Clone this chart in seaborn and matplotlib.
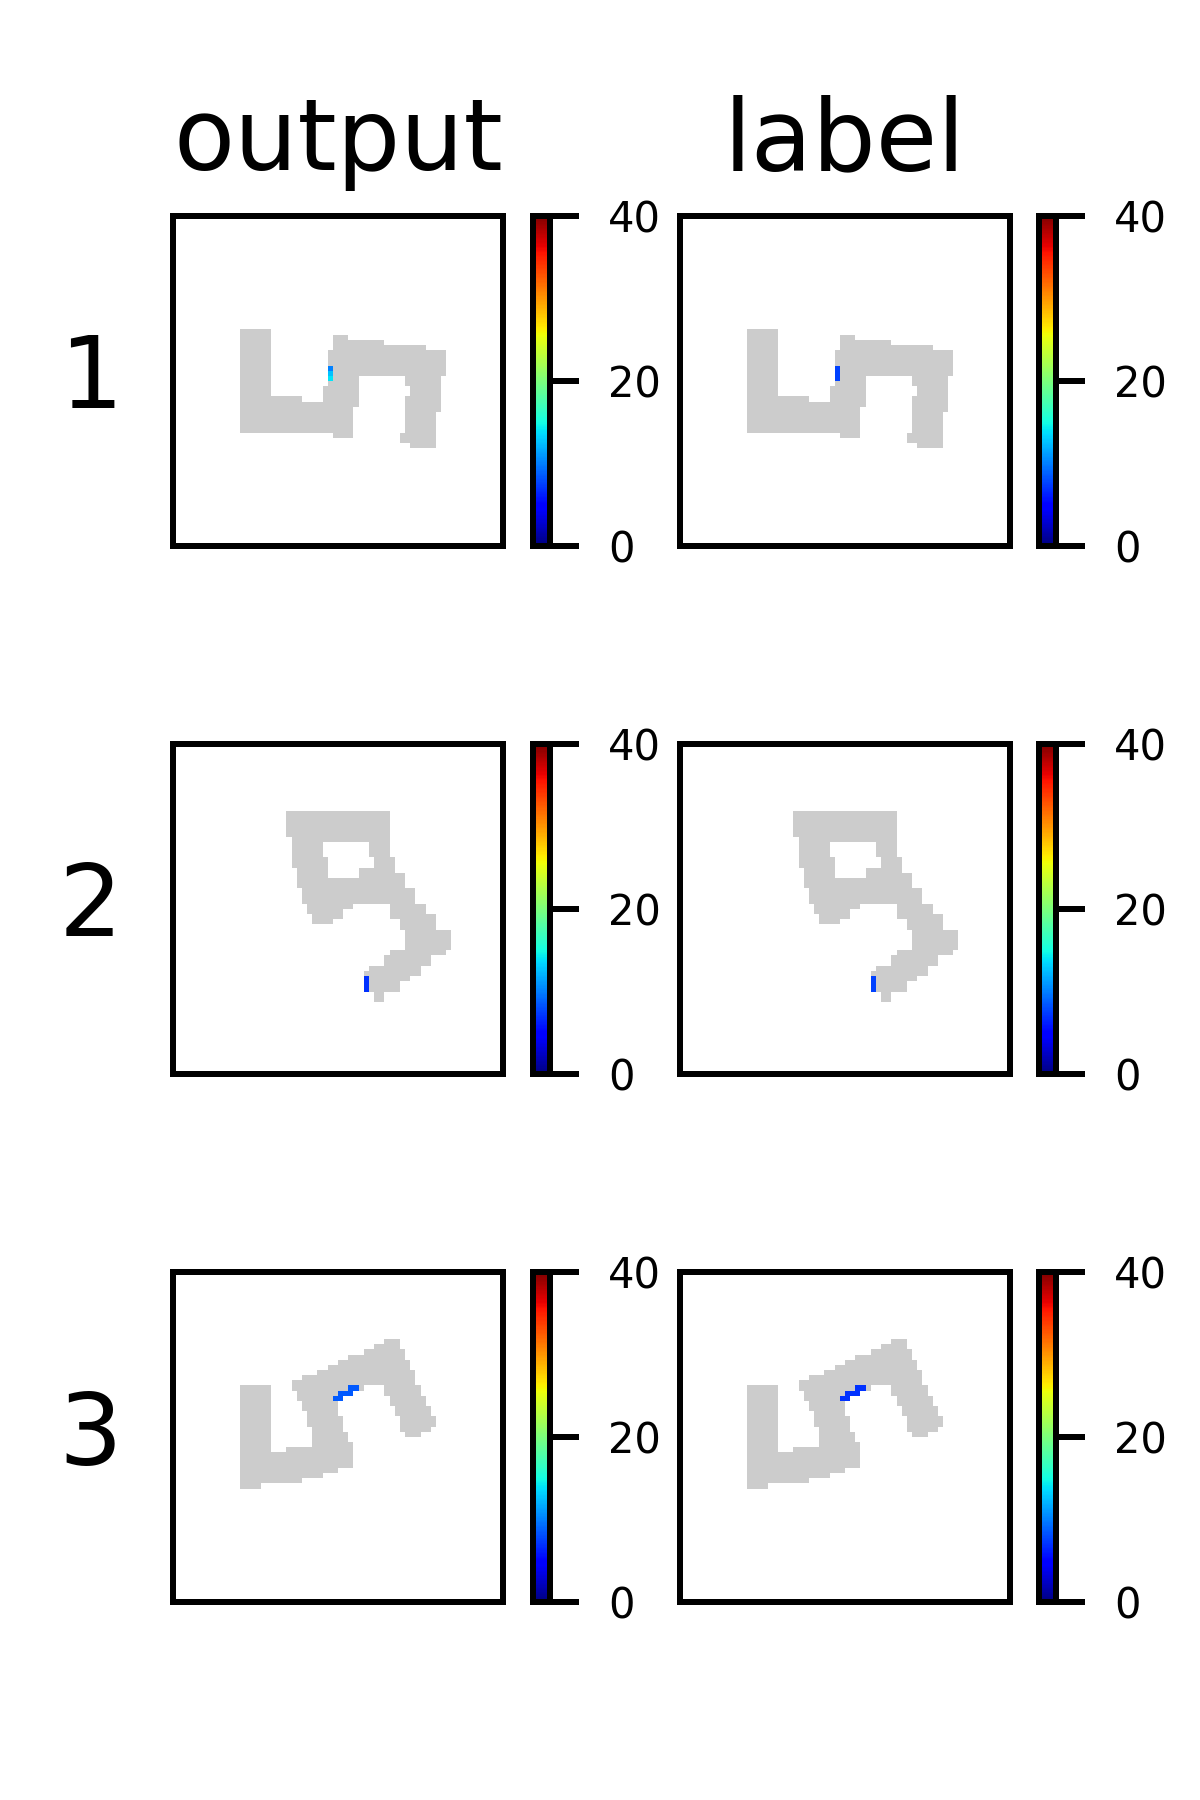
import numpy as np
import matplotlib
matplotlib.use("Agg")
import matplotlib.pyplot as plt
import seaborn as sns
from matplotlib.colors import ListedColormap

# ---------------- data ----------------
GRID = 64
row_names = ["1", "2", "3"]
col_titles = ["output", "label"]
cbar_ticks = [0, 20, 40]
vmin, vmax = 0, 40

# occupied (gray) cells: row -> list of inclusive column spans
shape1 = {
    22: [(13, 18)], 23: [(13, 18), (31, 33)], 24: [(13, 18), (31, 40)],
    25: [(13, 18), (31, 48)], 26: [(13, 18), (30, 52)], 27: [(13, 18), (30, 52)],
    28: [(13, 18), (30, 52)], 29: [(13, 18), (30, 52)], 30: [(13, 18), (30, 52)],
    31: [(13, 18), (30, 35), (45, 51)], 32: [(13, 18), (30, 35), (45, 51)],
    33: [(13, 18), (29, 35), (46, 51)], 34: [(13, 18), (29, 35), (46, 51)],
    35: [(13, 24), (29, 35), (45, 51)], 36: [(13, 35), (45, 51)],
    37: [(13, 34), (45, 51)], 38: [(13, 34), (45, 50)], 39: [(13, 34), (45, 50)],
    40: [(13, 34), (45, 50)], 41: [(13, 34), (45, 50)], 42: [(31, 34), (44, 50)],
    43: [(44, 50)], 44: [(46, 50)],
}
shape2 = {
    13: [(22, 41)], 14: [(22, 41)], 15: [(22, 41)], 16: [(22, 41)], 17: [(22, 41)],
    18: [(23, 41)], 19: [(23, 28), (38, 41)], 20: [(23, 28), (38, 41)],
    21: [(23, 28), (38, 41)], 22: [(23, 29), (39, 42)], 23: [(23, 29), (39, 42)],
    24: [(24, 29), (36, 42)], 25: [(24, 29), (36, 44)], 26: [(24, 44)], 27: [(24, 44)],
    28: [(25, 46)], 29: [(25, 46)], 30: [(25, 46)], 31: [(26, 34), (42, 48)],
    32: [(26, 32), (42, 48)], 33: [(27, 32), (42, 50)], 34: [(27, 30), (44, 50)],
    35: [(44, 50)], 36: [(45, 53)], 37: [(45, 53)], 38: [(45, 53)], 39: [(45, 53)],
    40: [(42, 52)], 41: [(41, 49)], 42: [(41, 49)], 43: [(38, 47)], 44: [(37, 47)],
    45: [(37, 45)], 46: [(37, 43)], 47: [(37, 43)], 48: [(39, 40)], 49: [(39, 40)],
}
shape3 = {
    13: [(41, 43)], 14: [(39, 43)], 15: [(37, 44)], 16: [(34, 44)], 17: [(32, 45)],
    18: [(30, 45)], 19: [(28, 46)], 20: [(25, 46)], 21: [(23, 46)],
    22: [(13, 18), (23, 36), (41, 47)], 23: [(13, 18), (24, 34), (41, 47)],
    24: [(13, 18), (24, 32), (42, 48)], 25: [(13, 18), (25, 31), (42, 48)],
    26: [(13, 18), (25, 31), (43, 49)], 27: [(13, 18), (26, 31), (43, 49)],
    28: [(13, 18), (26, 32), (44, 50)], 29: [(13, 18), (26, 32), (44, 50)],
    30: [(13, 18), (27, 32), (44, 49)], 31: [(13, 18), (27, 33), (45, 47)],
    32: [(13, 18), (27, 33)], 33: [(13, 18), (27, 34)], 34: [(13, 18), (22, 34)],
    35: [(13, 34)], 36: [(13, 34)], 37: [(13, 34)], 38: [(13, 31)],
    39: [(13, 28)], 40: [(13, 24)], 41: [(13, 16)],
}
shapes = [shape1, shape2, shape3]

# coloured cells (row, col, value)
output1 = [(29, 30, 10.0), (30, 30, 12.5), (31, 30, 14.0)]
label1 = [(29, 30, 7.5), (30, 30, 7.5), (31, 30, 7.5)]
output2 = [(45, 37, 7.0), (46, 37, 7.0), (47, 37, 7.0)]
label2 = [(45, 37, 7.5), (46, 37, 7.5), (47, 37, 7.5)]
output3 = [(22, 34, 8.5), (22, 35, 8.5), (23, 32, 8.5), (23, 33, 8.5),
           (23, 34, 8.5), (24, 31, 8.5), (24, 32, 8.5)]
label3 = [(22, 34, 7.0), (22, 35, 7.0), (23, 32, 7.0), (23, 33, 7.0),
          (23, 34, 7.0), (24, 31, 7.0), (24, 32, 7.0)]
values = [[output1, label1], [output2, label2], [output3, label3]]

# ---------------- style ----------------
sns.set_style("white")
plt.rcParams["font.family"] = ["DejaVu Sans"]
for k in ["text.color", "axes.edgecolor", "xtick.color", "ytick.color", "axes.labelcolor"]:
    plt.rcParams[k] = "black"

LW = 1.44
fig = plt.figure(figsize=(4, 6), dpi=300)

W, H = 1200.0, 1800.0
ax_left = [173, 680]
cb_left = [533, 1039]
ax_top = [216, 744, 1272]
size = 330
cb_w = 17

gray_cmap = ListedColormap(["white", "#cccccc"])

for r in range(3):
    occ = np.zeros((GRID, GRID))
    for row, spans in shapes[r].items():
        for a, b in spans:
            occ[row, a:b + 1] = 1
    for c in range(2):
        ax = fig.add_axes([ax_left[c] / W, 1 - (ax_top[r] + size) / H, size / W, size / H])
        cax = fig.add_axes([cb_left[c] / W, 1 - (ax_top[r] + size) / H, cb_w / W, size / H])
        val = np.zeros((GRID, GRID))
        msk = np.ones((GRID, GRID), dtype=bool)
        for (rr, cc, v) in values[r][c]:
            val[rr, cc] = v
            msk[rr, cc] = False
        sns.heatmap(occ, cmap=gray_cmap, vmin=0, vmax=1, cbar=False, ax=ax,
                    xticklabels=False, yticklabels=False)
        sns.heatmap(val, mask=msk, cmap="jet", vmin=vmin, vmax=vmax, ax=ax,
                    cbar_ax=cax, xticklabels=False, yticklabels=False)
        ax.set_xticks([])
        ax.set_yticks([])
        for s in ax.spines.values():
            s.set_visible(True)
            s.set_linewidth(LW)
            s.set_color("black")
        cb = ax.collections[-1].colorbar
        cb.set_ticks(cbar_ticks)
        cb.outline.set_linewidth(LW)
        cb.outline.set_edgecolor("black")
        cax.tick_params(length=7, width=LW, labelsize=10, pad=7, colors="black")
        if r == 0:
            ax.set_title(col_titles[c], fontsize=24, color="black", pad=11)
        if c == 0:
            ax.text(-0.25, 0.5, row_names[r], transform=ax.transAxes,
                    fontsize=24, ha="center", va="center", color="black")

fig.savefig("out.png", dpi=300, facecolor="white")
